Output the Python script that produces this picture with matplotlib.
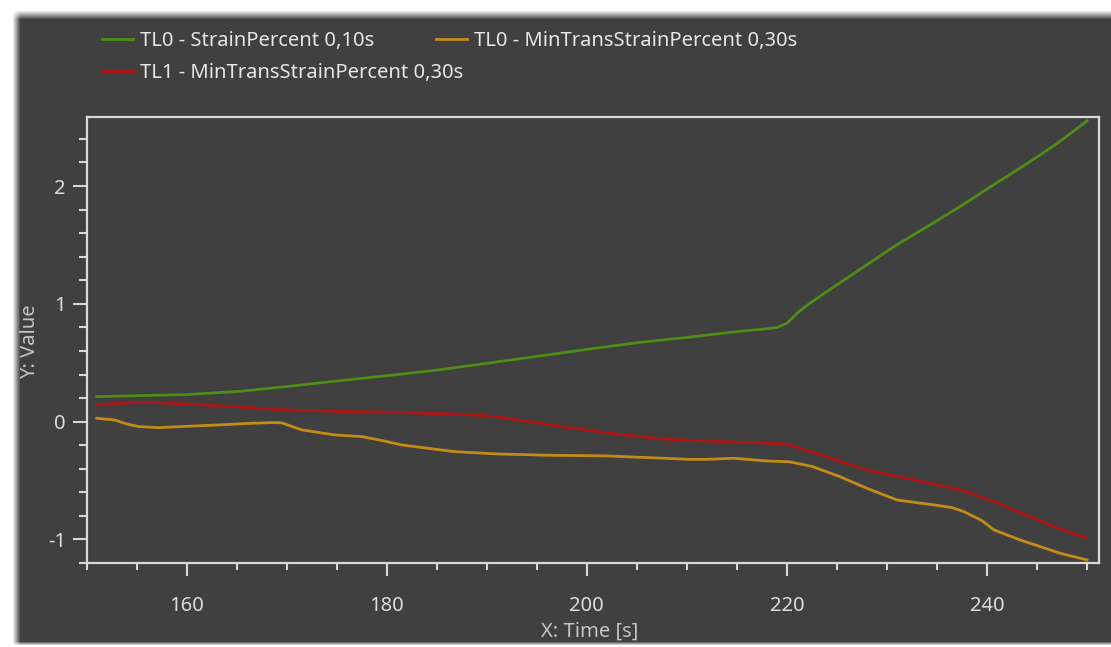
import numpy as np
import matplotlib
matplotlib.use("Agg")
import matplotlib.pyplot as plt
from matplotlib.ticker import MultipleLocator

# values
green_t = [151, 155, 160, 165, 170, 175, 180, 185, 190, 195, 200, 205, 210, 215,
           219, 220, 221.2, 222.3, 224, 227, 230.7, 234, 237.3, 241, 244, 247, 250]
green_v = [0.212, 0.22, 0.23, 0.255, 0.298, 0.345, 0.39, 0.437, 0.495, 0.554, 0.613,
           0.67, 0.715, 0.764, 0.798, 0.835, 0.934, 1.005, 1.104, 1.275, 1.486, 1.654,
           1.825, 2.029, 2.19, 2.36, 2.553]

red_t = [151, 153, 156, 160, 165, 170, 176.5, 180, 186.8, 190, 192, 195, 198.7, 202,
         205.3, 208, 212, 215, 218.7, 220, 221.3, 224, 228, 232, 235, 238, 241, 244.7,
         247, 250]
red_v = [0.142, 0.155, 0.165, 0.15, 0.125, 0.099, 0.085, 0.08, 0.065, 0.05, 0.029,
         -0.01, -0.056, -0.095, -0.127, -0.15, -0.164, -0.175, -0.184, -0.19, -0.225,
         -0.3, -0.41, -0.48, -0.535, -0.594, -0.69, -0.82, -0.9, -0.99]

orange_t = [151, 152.8, 154, 155.2, 157.2, 160, 163.2, 166.5, 168.5, 169.5, 170.5,
            171.5, 174.8, 177.5, 179.5, 181.5, 184, 186.8, 191, 196, 202, 206, 210.3,
            212, 214.7, 216, 218, 220.2, 222.5, 225.3, 228, 231, 234.7, 236.5, 237.7,
            239.5, 240.7, 243.3, 247.3, 250]
orange_v = [0.029, 0.014, -0.02, -0.042, -0.051, -0.04, -0.028, -0.014, -0.008, -0.01,
            -0.04, -0.07, -0.113, -0.127, -0.16, -0.198, -0.225, -0.255, -0.274, -0.285,
            -0.291, -0.305, -0.32, -0.32, -0.311, -0.32, -0.334, -0.34, -0.38, -0.467,
            -0.566, -0.665, -0.707, -0.73, -0.764, -0.84, -0.919, -1.004, -1.117, -1.174]

labels = ["TL0 - StrainPercent 0,10s",
          "TL0 - MinTransStrainPercent 0,30s",
          "TL1 - MinTransStrainPercent 0,30s"]

W, H = 1111, 647
panel = "#404040"
spine = "#d9d9d9"
txt = "#dcdcdc"

plt.rcParams['font.family'] = ['Noto Sans', 'DejaVu Sans']
plt.rcParams['axes.unicode_minus'] = False

fig = plt.figure(figsize=(W / 100, H / 100), dpi=100)

# background: dark panel with a soft white shadow at the left and top
yy, xx = np.mgrid[0:H, 0:W]
mx = np.clip((xx - 12) / 8.0, 0, 1)
my = np.clip((yy - 10) / 9.0, 0, 1) * np.clip((645 - yy) / 4.0, 0, 1)
m = (mx * my)[..., None]
g = np.array([0x40, 0x40, 0x40]) / 255.0
img = (1 - m) * 1.0 + m * g
bg = fig.add_axes([0, 0, 1, 1], zorder=-10)
bg.imshow(img, aspect="auto", interpolation="bilinear")
bg.axis("off")

ax = fig.add_axes([86.7 / W, 1 - 563 / H, (1099 - 86.7) / W, (563 - 117) / H])
ax.set_facecolor(panel)

l_green, = ax.plot(green_t, green_v, color="#4e8d18", lw=2.0)
l_orange, = ax.plot(orange_t, orange_v, color="#c38c19", lw=2.0)
l_red, = ax.plot(red_t, red_v, color="#b01515", lw=2.0)

ax.set_xlim(150, 251.2)
ax.set_ylim(-1.2, 2.586)

ax.xaxis.set_major_locator(MultipleLocator(20))
ax.xaxis.set_minor_locator(MultipleLocator(5))
ax.yaxis.set_major_locator(MultipleLocator(1))
ax.yaxis.set_minor_locator(MultipleLocator(0.2))

for s in ["left", "bottom", "right", "top"]:
    ax.spines[s].set_color(spine)
    ax.spines[s].set_linewidth(1.6)

ax.tick_params(axis="both", which="both", direction="out", color=spine, width=1.5,
               labelcolor=txt, labelsize=14.5)
ax.tick_params(axis="y", which="major", length=10, pad=5)
ax.tick_params(axis="y", which="minor", length=6)
ax.tick_params(axis="x", which="major", length=9, pad=15)
ax.tick_params(axis="x", which="minor", length=5)
ax.tick_params(top=False, right=False)

fig.text(590 / W, 1 - 632 / H, "X: Time [s]", color="#c4c4c4", fontsize=14.5,
         ha="center", va="center")
fig.text(30 / W, 1 - 342 / H, "Y: Value", color="#c4c4c4", fontsize=14.5,
         ha="center", va="center", rotation=90)

# legend: first row holds two entries, second row one (flow layout)
fs = 14.5
fpx = fs * 100 / 72
leg_kw = dict(loc="center left", frameon=False, fontsize=fs, labelcolor="#e6e6e6",
              handlelength=31 / fpx, handletextpad=7 / fpx, borderaxespad=0,
              borderpad=0)
fig.legend([l_green, l_orange], [labels[0], labels[1]], ncol=2,
           bbox_to_anchor=(102 / W, 1 - 41 / H), columnspacing=62 / fpx, **leg_kw)
fig.legend([l_red], [labels[2]], bbox_to_anchor=(102 / W, 1 - 73 / H), **leg_kw)

fig.savefig("out.png", dpi=100, facecolor="white")
